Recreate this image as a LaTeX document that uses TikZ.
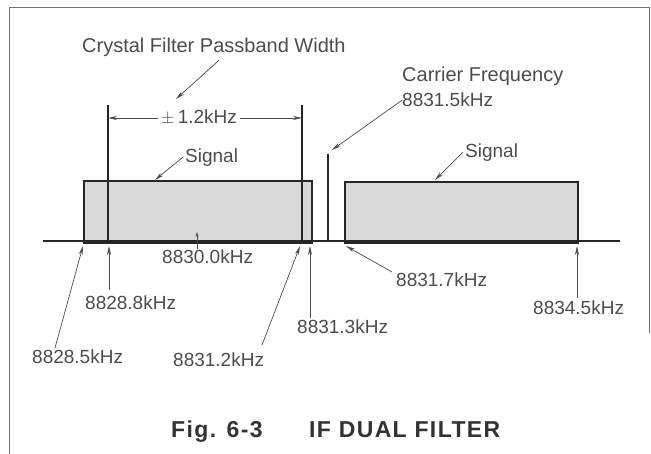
\documentclass[tikz,border=0pt]{standalone}
\usepackage{fontspec}
\setmainfont{Liberation Sans}
\usetikzlibrary{arrows.meta}
\begin{document}
\begin{tikzpicture}[x=1pt,y=-1pt,
  lbl/.style={font=\fontsize{19}{22}\selectfont, text=black!70, inner sep=0pt, anchor=base west},
  ttl/.style={font=\fontsize{20}{24}\selectfont, text=black!70, inner sep=0pt, anchor=base west},
  figcap/.style={font=\fontsize{23}{27}\selectfont\bfseries\addfontfeatures{LetterSpace=6}, text=black!80, inner sep=0pt, anchor=base west},
  arr/.style={-{Stealth[length=9pt,width=4pt]}, line width=0.7pt, draw=black!70},
  band/.style={draw=black!85, line width=1.8pt, fill=black!15, inner sep=0pt, anchor=north west},
  bar/.style={line width=2.4pt, draw=black!85},
  frame/.style={draw=black!55, line width=0.8pt}]
\useasboundingbox (0,0) rectangle (651,454);
% frame
\draw[frame] (9,454) -- (9,7) -- (649,7) -- (649,333);
% signal bands
\node[band, minimum width=228, minimum height=62] (sigL) at (83,180) {};
\node[band, minimum width=233, minimum height=61] (sigR) at (344,181) {};
% baseline
\coordinate (bl0) at (43,241);
\coordinate (bl1) at (620,241);
\draw[line width=1.8pt, draw=black!85] (bl0) -- (bl1);
% passband bars and carrier
\coordinate (pbLt) at (108,105); \coordinate (pbLb) at (108,241);
\coordinate (pbRt) at (302,105); \coordinate (pbRb) at (302,241);
\coordinate (carT) at (328,154); \coordinate (carB) at (328,241);
\draw[bar] (pbLt) -- (pbLb);
\draw[bar] (pbRt) -- (pbRb);
\draw[bar] (carT) -- (carB);
% dimension
\node[lbl] (pm) at (161,124) {$\pm$\,1.2kHz};
\coordinate (dimL) at (108,118); \coordinate (dimR) at (302,118);
\draw[arr] (pm.west |- dimL) ++(-3,0) -- (dimL);
\draw[arr] (pm.east |- dimR) ++(3,0) -- (dimR);
% titles
\node[ttl] (cfpw) at (82,53) {Crystal Filter Passband Width};
\coordinate (pbTip) at (176,99);
\draw[arr] ([xshift=5pt,yshift=-3pt]cfpw.south) -- (pbTip);
\node[ttl] (cf) at (402,82) {Carrier Frequency};
\node[lbl] (c315) at (402,107) {8831.5kHz};
\coordinate (carTip) at (332,150);
\draw[arr] (c315.west) -- (carTip);
% signal labels
\node[lbl] (sLl) at (185,163) {Signal};
\coordinate (sLt) at (155,180);
\draw[arr] ([xshift=-2pt,yshift=1pt]sLl.west) -- (sLt);
\node[lbl] (sRl) at (465,158) {Signal};
\coordinate (sRt) at (435,180);
\draw[arr] ([xshift=-2pt,yshift=1pt]sRl.west) -- (sRt);
% frequency labels
\node[lbl] (c300) at (162,264) {8830.0kHz};
\coordinate (t300) at (197,232);
\draw[-{Stealth[length=5pt,width=3pt]}, line width=0.7pt, draw=black!70] (c300.north -| t300) ++(0,-1) -- (t300);
\node[lbl] (c288) at (85,310) {8828.8kHz};
\coordinate (s288) at (109,290); \coordinate (t288) at (109,246);
\draw[arr] (s288) -- (t288);
\node[lbl] (c285) at (32,364) {8828.5kHz};
\coordinate (s285) at (55,348); \coordinate (t285) at (83,246);
\draw[arr] (s285) -- (t285);
\node[lbl] (c312) at (173,367) {8831.2kHz};
\coordinate (s312) at (262,345); \coordinate (t312) at (300,246);
\draw[arr] (s312) -- (t312);
\node[lbl] (c313) at (297,334) {8831.3kHz};
\coordinate (s313) at (310,318); \coordinate (t313) at (310,246);
\draw[arr] (s313) -- (t313);
\node[lbl] (c317) at (396,287) {8831.7kHz};
\coordinate (s317) at (392,272); \coordinate (t317) at (346,246);
\draw[arr] (s317) -- (t317);
\node[lbl] (c345) at (533,315) {8834.5kHz};
\coordinate (s345) at (577,298); \coordinate (t345) at (577,246);
\draw[arr] (s345) -- (t345);
% caption
\node[figcap] (figno) at (171,437) {Fig. 6-3};
\node[figcap] (figttl) at (309,437) {IF DUAL FILTER};
\end{tikzpicture}
\end{document}
